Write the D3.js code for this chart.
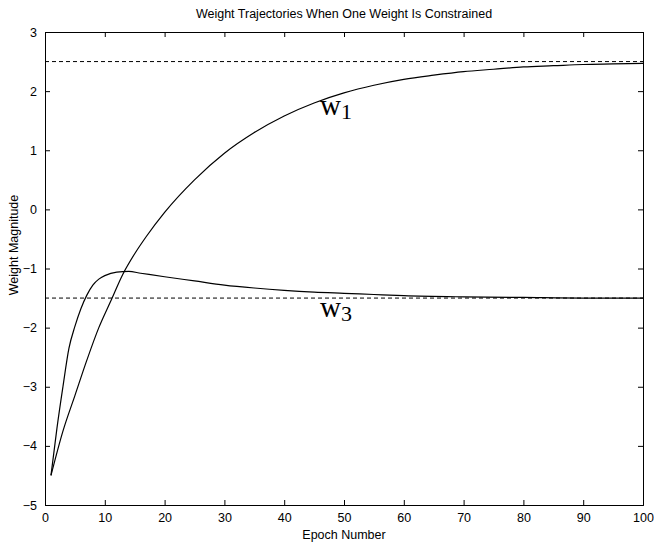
<!DOCTYPE html>
<html>
<head>
<meta charset="utf-8">
<script src="https://cdn.jsdelivr.net/npm/d3@7"></script>
<style>
  body { margin: 0; background: #fff; }
  text { font-family: "Liberation Sans", Arial, sans-serif; fill: #000; }
</style>
</head>
<body>
<div id="chart"></div>
<script>
// data
var epochs = [1, 3, 5, 7, 9, 11, 13, 15, 17, 20, 25, 30, 35, 40, 45, 50, 55, 60, 65, 70, 75, 80, 85, 90, 95, 100];
var w1 = [-4.5, -3.75, -3.15, -2.55, -2.0, -1.55, -1.1, -0.75, -0.45, -0.05, 0.5, 0.95, 1.3, 1.58, 1.8, 1.97, 2.1, 2.2, 2.27, 2.33, 2.37, 2.41, 2.43, 2.45, 2.46, 2.47];

var epochs3 = [1, 2, 3, 4, 5, 6, 7, 8, 9, 10, 12, 14, 16, 20, 25, 30, 35, 40, 45, 50, 55, 60, 70, 80, 90, 100];
var w3 = [-4.5, -3.7, -3.0, -2.35, -1.98, -1.68, -1.45, -1.28, -1.18, -1.12, -1.06, -1.05, -1.08, -1.14, -1.21, -1.28, -1.33, -1.37, -1.4, -1.42, -1.44, -1.46, -1.48, -1.49, -1.5, -1.5];

var targets = [2.5, -1.5];
var xTicks = [0, 10, 20, 30, 40, 50, 60, 70, 80, 90, 100];
var yTicks = [-5, -4, -3, -2, -1, 0, 1, 2, 3];

//size of canvas
var svgWidth = 654;
var svgHeight = 542;
var margin = { top: 32, right: 11, bottom: 37, left: 45 };
var width = svgWidth - margin.left - margin.right;
var height = svgHeight - margin.top - margin.bottom;

var svg = d3.select("#chart").append("svg")
  .attr("width", svgWidth)
  .attr("height", svgHeight);

var chartGroup = svg.append("g")
  .attr("transform", `translate(${margin.left}, ${margin.top})`);

var x = d3.scaleLinear().domain([0, 100]).range([0, width]);
var y = d3.scaleLinear().domain([-5, 3]).range([height, 0]);

// axes with inward ticks (box style)
var bottomAxis = d3.axisBottom(x).tickValues(xTicks).tickSize(-5).tickPadding(8).tickFormat(d3.format("d"));
var leftAxis = d3.axisLeft(y).tickValues(yTicks).tickSize(-5).tickPadding(8).tickFormat(d3.format("d"));
var topAxis = d3.axisTop(x).tickValues(xTicks).tickSize(-5).tickFormat("");
var rightAxis = d3.axisRight(y).tickValues(yTicks).tickSize(-5).tickFormat("");

function styleAxis(g) {
  g.selectAll("path").attr("stroke", "#000");
  g.selectAll("line").attr("stroke", "#000");
  g.selectAll("text").style("font-size", "12.5px").attr("fill", "#000");
}

chartGroup.append("g").attr("transform", `translate(0,${height})`).call(bottomAxis).call(styleAxis);
chartGroup.append("g").call(leftAxis).call(styleAxis);
chartGroup.append("g").call(topAxis).call(styleAxis);
chartGroup.append("g").attr("transform", `translate(${width},0)`).call(rightAxis).call(styleAxis);

// dashed target lines
chartGroup.selectAll(".target").data(targets).enter()
  .append("line")
  .attr("x1", x(0)).attr("x2", x(100))
  .attr("y1", d => y(d)).attr("y2", d => y(d))
  .attr("stroke", "#000")
  .attr("stroke-width", 1)
  .attr("stroke-dasharray", "4,3");

var line = d3.line().curve(d3.curveMonotoneX);

chartGroup.append("path")
  .attr("d", line(epochs.map((e, i) => [x(e), y(w1[i])])))
  .attr("fill", "none").attr("stroke", "#000").attr("stroke-width", 1.2);

chartGroup.append("path")
  .attr("d", line(epochs3.map((e, i) => [x(e), y(w3[i])])))
  .attr("fill", "none").attr("stroke", "#000").attr("stroke-width", 1.2);

// curve labels
function weightLabel(px, py, sub) {
  var t = chartGroup.append("text")
    .attr("x", x(px)).attr("y", y(py))
    .style("font-family", "'Liberation Serif', 'Times New Roman', serif")
    .style("font-size", "29px");
  t.append("tspan").text("w");
  t.append("tspan").attr("dy", 4).style("font-size", "22px").text(sub);
}
weightLabel(46, 1.6, "1");
weightLabel(46, -1.82, "3");

// title and axis labels
svg.append("text")
  .attr("x", margin.left + width / 2).attr("y", 18)
  .attr("text-anchor", "middle")
  .style("font-size", "12.5px")
  .text("Weight Trajectories When One Weight Is Constrained");

svg.append("text")
  .attr("x", margin.left + width / 2).attr("y", 539)
  .attr("text-anchor", "middle")
  .style("font-size", "12.5px")
  .text("Epoch Number");

svg.append("text")
  .attr("transform", `translate(18, 245) rotate(-90)`)
  .attr("text-anchor", "middle")
  .style("font-size", "12.5px")
  .text("Weight Magnitude");
</script>
</body>
</html>
